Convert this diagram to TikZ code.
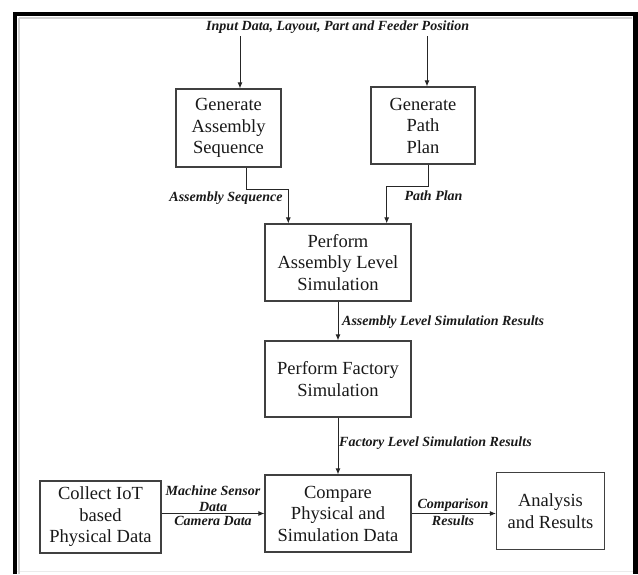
\documentclass[tikz,border=0pt]{standalone}
\usepackage{fontspec}
\setmainfont{Liberation Serif}
\usetikzlibrary{arrows.meta}
\begin{document}
\begin{tikzpicture}[x=1pt,y=-1pt,
  box/.style={draw=black!75,line width=1.2pt,align=center,inner sep=0pt,
    font=\fontsize{18.5}{21.5}\selectfont,text=black!90},
  flow/.style={draw=black!85,line width=0.9pt,-{Latex[length=6pt,width=5pt]}},
  lbl/.style={font=\fontsize{14}{16.5}\selectfont\bfseries\itshape,text=black!90,inner sep=0pt,align=center}]
\useasboundingbox (0,0) rectangle (638,574);
% frame
\draw[black!8,line width=1pt] (17,571.5) -- (633,571.5);
\draw[black!18,line width=2pt] (19,18) -- (632,18);
\draw[black!18,line width=2pt] (19,18) -- (19,574);
\draw[black,line width=4.5pt] (15,574) -- (15,14) -- (635.5,14) -- (635.5,574);

% boxes
\node[box,minimum width=105,minimum height=78] (gas) at (228.5,128) {Generate\\Assembly\\Sequence};
\node[box,minimum width=104,minimum height=77] (gpp) at (423,125.5) {Generate\\Path\\Plan};
\node[box,minimum width=146,minimum height=77] (pals) at (338,262.5) {Perform\\Assembly Level\\Simulation};
\node[box,minimum width=146,minimum height=76] (pfs) at (338,379) {Perform Factory\\Simulation};
\node[box,minimum width=146,minimum height=77] (cmp) at (338,513.5) {Compare\\Physical and\\Simulation Data};
\node[box,minimum width=121,minimum height=72] (iot) at (100.5,517) {Collect IoT\\based\\Physical Data};
\node[box,minimum width=108,minimum height=77] (ana) at (550.5,511) {Analysis\\and Results};

% labels
\node[lbl] (inp) at (337.7,27) {Input Data, Layout, Part and Feeder Position};
\node[lbl] (lseq) at (226,198) {Assembly Sequence};
\node[lbl] (lpath) at (433.5,196) {Path Plan};
\node[lbl,anchor=west] (lasr) at (342,322) {Assembly Level Simulation Results};
\node[lbl,anchor=west] (lfsr) at (339,443) {Factory Level Simulation Results};
\node[lbl,anchor=south] (lmsd) at (213,512) {Machine Sensor\\Data};
\node[lbl,anchor=north] (lcam) at (213,516) {Camera Data};
\node[lbl,anchor=south] (lcmp) at (453,512) {Comparison};
\node[lbl,anchor=north] (lres) at (453,516) {Results};

% connectors
\coordinate (i1) at (240,36);
\coordinate (i2) at (427,36);
\draw[flow] (i1) -- (gas.north -| i1);
\draw[flow] (i2) -- (gpp.north -| i2);

\coordinate (j1) at (246,189);
\coordinate (j2) at (288.3,189);
\draw[flow] (gas.south -| j1) -- (j1) -- (j2) -- (pals.north -| j2);

\coordinate (k1) at (428.3,186.7);
\coordinate (k2) at (386.7,186.7);
\draw[flow] (gpp.south -| k1) -- (k1) -- (k2) -- (pals.north -| k2);

\draw[flow] (pals.south) -- (pfs.north);
\draw[flow] (pfs.south) -- (cmp.north);
\draw[flow] (iot.east |- cmp.center) -- (cmp.west);
\draw[flow] (cmp.east) -- (cmp.east -| ana.west);
\end{tikzpicture}
\end{document}
